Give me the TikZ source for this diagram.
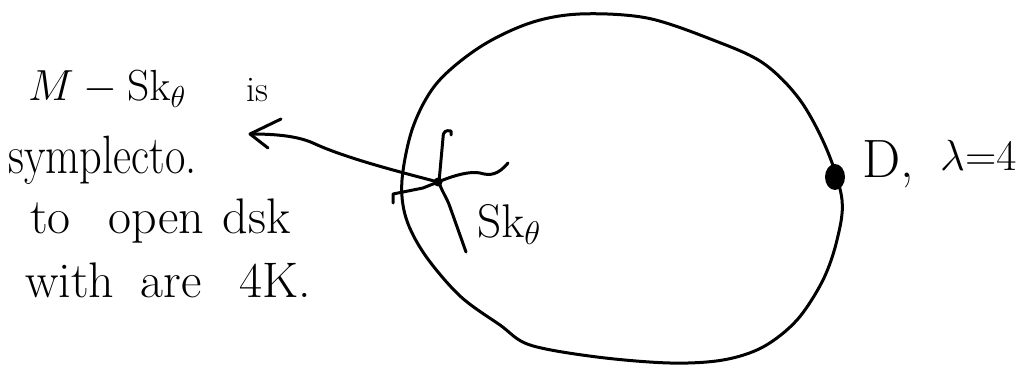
\documentclass[tikz,border=0pt]{standalone}
\usepackage{graphicx}
\usetikzlibrary{calc,shapes.geometric}
\begin{document}
\begin{tikzpicture}[x=1pt,y=-1pt,
  pen/.style={line width=3pt,line cap=round,line join=round,black},
  txt/.style={inner sep=0pt,anchor=base west,font=\fontsize{50}{54}\selectfont},
  mtxt/.style={inner sep=0pt,anchor=base west,font=\fontsize{25}{30}\selectfont}]
\useasboundingbox (0,0) rectangle (1016,366);
% the disc boundary
\draw[pen] plot[smooth cycle,tension=0.55] coordinates {
 (580,14) (647,18) (713,40) (763,63) (800,100) (827,150) (842,200)
 (837,240) (823,280) (797,320) (763,347) (723,360) (670,363) (597,357)
 (530,345) (500,325) (460,296) (425,255) (406,218) (402,180) (413,127)
 (437,83) (480,47) (530,23)};
% skeleton
\coordinate (sk) at (438,182);
\coordinate (tip) at (250,134);
\node[fill,ellipse,minimum width=20pt,minimum height=26pt,inner sep=0pt] (D) at (835,177) {};
\draw[pen] (451,135) -- (451,131) .. controls (446,130) and (443,131) .. (443,138)
  -- (439,182) .. controls (441,190) and (447,198) .. (450,207) -- (466,252);
\draw[pen] (393,203) -- (393,194) -- (423,188) -- (sk)
  .. controls (455,175) and (470,171) .. (480,173)
  .. controls (490,176) and (498,175) .. (508,163);
\fill (sk) circle (4.5pt);
% arrow
\draw[pen] (sk) .. controls (400,172) and (345,158) .. (313,143)
  .. controls (295,135) and (270,134) .. (tip);
\draw[pen] ($(tip)+(31,-15)$) -- (tip) -- ($(tip)+(18,14)$);
% texts
\node[mtxt] (t1) at (28,101) {\scalebox{1.75}{$M-\mathrm{Sk}_\theta$}};
\node[txt,font=\fontsize{36}{40}\selectfont] (t2) at (246,102) {is};
\node[txt,xscale=0.82,font=\fontsize{54}{58}\selectfont] (t3) at (8,173) {symplecto.};
\node[txt] (t4) at (30,233) {to\hspace{38pt}open\hspace{18pt}dsk};
\node[txt] (t5) at (25,297) {with\hspace{26pt}are\hspace{38pt}4K.};
\node[mtxt] (t6) at (477,237) {\scalebox{1.9}{$\mathrm{Sk}_\theta$}};
\node[txt,font=\fontsize{54}{58}\selectfont] (t7) at (862,177) {D,};
\node[mtxt] (t8) at (940,171) {\scalebox{1.75}{$\lambda{=}4$}};
\end{tikzpicture}
\end{document}
